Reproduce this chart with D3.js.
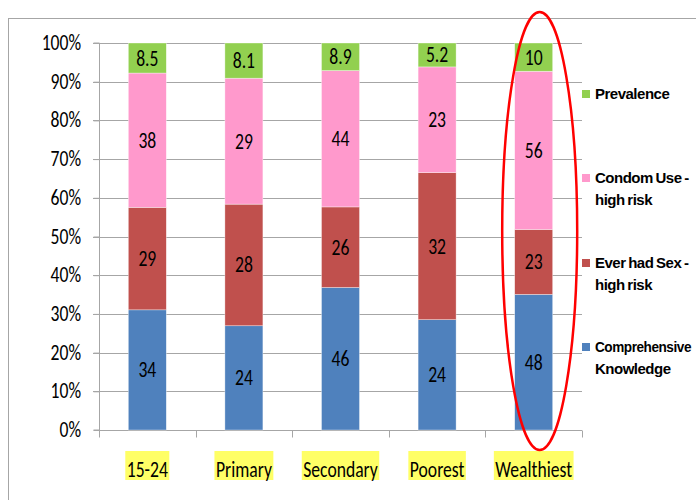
<!DOCTYPE html>
<html><head><meta charset="utf-8">
<script src="https://cdn.jsdelivr.net/npm/d3@7/dist/d3.min.js"></script>
<style>
body{margin:0;background:#fff;}
svg{display:block;}
</style></head>
<body>
<svg id="chart" width="696" height="500"></svg>
<script>
const categories = ["15-24","Primary","Secondary","Poorest","Wealthiest"];
const seriesNames = ["Comprehensive Knowledge","Ever had Sex - high risk","Condom Use - high risk","Prevalence"];
const comprehensive = [34,24,46,24,48];
const everSex = [29,28,26,32,23];
const condomUse = [38,29,44,23,56];
const prevalence = [8.5,8.1,8.9,5.2,10];
const yTicks = [0,0.1,0.2,0.3,0.4,0.5,0.6,0.7,0.8,0.9,1];
const legendLines = [["Prevalence"],["Condom Use -","high risk"],["Ever had Sex -","high risk"],["Comprehensive","Knowledge"]];
const colors = ["#4f81bd","#c0504d","#ff99cc","#92d050"];

(function(){
const FONT = "Carlito, Calibri, 'Liberation Sans Narrow', 'Arial Narrow', sans-serif";
const FS = 22, SX = 0.8;
const svg = d3.select("#chart");

function sqText(g, x, y, txt, anchor){
  return g.append("text").attr("transform",`translate(${x},${y}) scale(${SX},1)`)
    .attr("text-anchor",anchor||"middle").attr("font-family",FONT).attr("font-size",FS)
    .attr("fill","#000").text(txt);
}

// outer frame
svg.append("rect").attr("x",8.5).attr("y",18.5).attr("width",720).attr("height",520)
  .attr("fill","none").attr("stroke","#a6a6a6").attr("stroke-width",1);

const pL = 99, pR = 582, pT = 43, pB = 430;
const xOuter = d3.scaleBand().domain(categories).range([pL,pR]);
const y = d3.scaleLinear().domain([0,1]).range([pB,pT]);

const data = categories.map((c,i)=>({cat:c, s0:comprehensive[i], s1:everSex[i], s2:condomUse[i], s3:prevalence[i]}));
const stack = d3.stack().keys(["s0","s1","s2","s3"]).offset(d3.stackOffsetExpand);
const stacked = stack(data);

// gridlines
svg.append("g").selectAll("line").data(yTicks.filter(d=>d>0)).join("line")
  .attr("x1",pL-6).attr("x2",pR).attr("y1",d=>Math.round(y(d))+0.5).attr("y2",d=>Math.round(y(d))+0.5)
  .attr("stroke","#a6a6a6").attr("stroke-width",1);

// y axis
const yAxis = d3.axisLeft(y).tickValues(yTicks).tickFormat("").tickSize(6);
const gy = svg.append("g").attr("transform",`translate(${pL+0.5},0)`).call(yAxis);
gy.select(".domain").attr("stroke","#a6a6a6").attr("d",`M-6,${pT}H0V${pB}H-6`);
gy.selectAll(".tick line").attr("stroke","#a6a6a6");
const fmt = d3.format(".0%");
const yl = svg.append("g");
yTicks.forEach(t=>{ sqText(yl, 81, y(t)+7, fmt(t), "end"); });

// x axis
const gx = svg.append("g").attr("transform",`translate(0,${pB+0.5})`);
gx.append("line").attr("x1",pL).attr("x2",pR).attr("stroke","#a6a6a6");
const bounds = categories.map(c=>xOuter(c)).concat([pR]);
gx.selectAll("line.tk").data(bounds).join("line").attr("class","tk")
  .attr("x1",d=>Math.round(d)+0.5).attr("x2",d=>Math.round(d)+0.5).attr("y1",0).attr("y2",7).attr("stroke","#a6a6a6");

// bars
const bw = 38;
const layers = svg.append("g").selectAll("g").data(stacked).join("g").attr("fill",(d,i)=>colors[i]);
layers.selectAll("rect").data(d=>d).join("rect")
  .attr("x",d=>xOuter(d.data.cat)+xOuter.bandwidth()/2-bw/2)
  .attr("width",bw)
  .attr("y",d=>y(d[1]))
  .attr("height",d=>y(d[0])-y(d[1]))
  .attr("stroke","#ffffff").attr("stroke-opacity",0.6).attr("stroke-width",0.6);

// data labels
const dl = svg.append("g");
stacked.forEach((layer,li)=>{
  layer.forEach(d=>{
    sqText(dl, xOuter(d.data.cat)+xOuter.bandwidth()/2, (y(d[0])+y(d[1]))/2+7.5, d.data["s"+li]);
  });
});

// category labels with yellow highlight
const cl = svg.append("g");
categories.forEach(c=>{
  const cx = xOuter(c)+xOuter.bandwidth()/2;
  const g = cl.append("g");
  const t = sqText(g, cx, 477, c);
  const w = t.node().getComputedTextLength()*SX;
  g.insert("rect","text").attr("x",cx-w/2-1.5).attr("y",451).attr("width",w+3).attr("height",29).attr("fill","#ffff66");
});

// legend
const legY = [99,183,268,352];
const lg = svg.append("g");
const maxW = 96;
[3,2,1,0].forEach((si,k)=>{
  const yy = legY[k];
  lg.append("rect").attr("x",582).attr("y",yy-9).attr("width",8).attr("height",8).attr("fill",colors[si]);
  legendLines[k].forEach((ln,j)=>{
    const t = lg.append("text").attr("x",595).attr("y",yy+j*22)
      .attr("font-family","'Liberation Sans', Arial, sans-serif").attr("font-weight","bold")
      .attr("font-size",15).attr("letter-spacing","-0.5").attr("word-spacing","-1")
      .attr("fill","#000").text(ln);
    if (t.node().getComputedTextLength() > maxW) {
      t.attr("textLength",maxW).attr("lengthAdjust","spacingAndGlyphs");
    }
  });
});

// red ellipse highlight around last category
const wc = xOuter("Wealthiest")+xOuter.bandwidth()/2;
svg.append("ellipse").attr("cx",wc+6).attr("cy",231).attr("rx",37.5).attr("ry",219)
  .attr("fill","none").attr("stroke","#ff0000").attr("stroke-width",2.5);
})();
</script>
</body></html>
